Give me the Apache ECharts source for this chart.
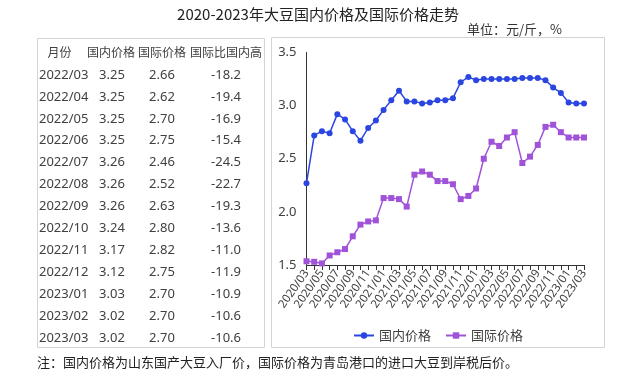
<!DOCTYPE html>
<html>
<head>
<meta charset="utf-8">
<script src="https://cdn.jsdelivr.net/npm/echarts@6/dist/echarts.min.js"></script>
<style>
html,body{margin:0;padding:0;background:#fff;}
#c{width:640px;height:378px;}
</style>
</head>
<body>
<div id="c"></div>
<script>
var months = ['2020/03','2020/04','2020/05','2020/06','2020/07','2020/08','2020/09','2020/10','2020/11','2020/12',
  '2021/01','2021/02','2021/03','2021/04','2021/05','2021/06','2021/07','2021/08','2021/09','2021/10','2021/11','2021/12',
  '2022/01','2022/02','2022/03','2022/04','2022/05','2022/06','2022/07','2022/08','2022/09','2022/10','2022/11','2022/12',
  '2023/01','2023/02','2023/03'];
var domestic = [2.27,2.72,2.76,2.74,2.92,2.87,2.76,2.67,2.79,2.86,2.96,3.05,3.14,3.04,3.04,3.02,3.03,3.05,3.05,3.07,
  3.22,3.27,3.24,3.25,3.25,3.25,3.25,3.25,3.26,3.26,3.26,3.24,3.17,3.12,3.03,3.02,3.02];
var international = [1.535,1.53,1.515,1.59,1.62,1.65,1.77,1.88,1.91,1.92,2.13,2.13,2.12,2.05,2.35,2.38,2.35,2.29,2.29,2.26,
  2.12,2.15,2.22,2.50,2.66,2.62,2.70,2.75,2.46,2.52,2.63,2.80,2.82,2.75,2.70,2.70,2.70];
var seriesNames = ['国内价格','国际价格'];
var yTicks = ['1.5','2.0','2.5','3.0','3.5'];

var tableHeader = ['月份','国内价格','国际价格','国际比国内高'];
var tableMonths = ['2022/03','2022/04','2022/05','2022/06','2022/07','2022/08','2022/09','2022/10','2022/11','2022/12','2023/01','2023/02','2023/03'];
var tableDomestic = ['3.25','3.25','3.25','3.25','3.26','3.26','3.26','3.24','3.17','3.12','3.03','3.02','3.02'];
var tableIntl = ['2.66','2.62','2.70','2.75','2.46','2.52','2.63','2.80','2.82','2.75','2.70','2.70','2.70'];
var tableDiff = ['-18.2','-19.4','-16.9','-15.4','-24.5','-22.7','-19.3','-13.6','-11.0','-11.9','-10.9','-10.6','-10.6'];

var titleText = '2020-2023年大豆国内价格及国际价格走势';
var unitText = '单位：元/斤，%';
var noteText = '注：国内价格为山东国产大豆入厂价，国际价格为青岛港口的进口大豆到岸税后价。';

var CJK = '"Noto Sans CJK SC", sans-serif';
var NUM = '"Noto Sans", "Open Sans", sans-serif';
var TXT = '#404040';

var graphics = [];
graphics.push({type:'rect', shape:{x:37.5,y:38.5,width:227,height:309}, style:{fill:'#fff',stroke:'#d4d4d4',lineWidth:1}, z:-10});
graphics.push({type:'rect', shape:{x:271.5,y:37.5,width:333,height:310}, style:{fill:'#fff',stroke:'#d4d4d4',lineWidth:1}, z:-10});
graphics.push({type:'text', x:318, y:14, style:{text:titleText, font:'15px '+CJK, fill:'#222', textAlign:'center', textVerticalAlign:'middle'}});
graphics.push({type:'text', x:467, y:29, style:{text:unitText, font:'13px '+CJK, fill:'#333', textAlign:'left', textVerticalAlign:'middle'}});
graphics.push({type:'text', x:37, y:362, style:{text:noteText, font:'13px '+CJK, fill:'#222', textAlign:'left', textVerticalAlign:'middle'}});

var headX = [59.5, 111, 162, 226];
tableHeader.forEach(function(h,i){
  graphics.push({type:'text', x:headX[i], y:52, style:{text:h, font:'12px '+CJK, fill:TXT, textAlign:'center', textVerticalAlign:'middle'}});
});
for (var r=0;r<tableMonths.length;r++){
  var yy = 75 + 21.9*r;
  graphics.push({type:'text', x:39, y:yy, style:{text:tableMonths[r], font:'13px '+NUM, fill:TXT, textAlign:'left', textVerticalAlign:'middle'}});
  graphics.push({type:'text', x:112, y:yy, style:{text:tableDomestic[r], font:'13px '+NUM, fill:TXT, textAlign:'center', textVerticalAlign:'middle'}});
  graphics.push({type:'text', x:162, y:yy, style:{text:tableIntl[r], font:'13px '+NUM, fill:TXT, textAlign:'center', textVerticalAlign:'middle'}});
  graphics.push({type:'text', x:226, y:yy, style:{text:tableDiff[r], font:'13px '+NUM, fill:TXT, textAlign:'center', textVerticalAlign:'middle'}});
}

var chart = echarts.init(document.getElementById('c'), null, {renderer:'canvas'});
chart.setOption({
  animation:false,
  backgroundColor:'#fff',
  graphic: graphics,
  grid:{left:306.5, right:56, top:52.5, bottom:113, containLabel:false},
  legend:{
    data:seriesNames, left:348, top:324, itemWidth:20, itemHeight:8, itemGap:14,
    textStyle:{fontFamily:'Noto Sans CJK SC', fontSize:13, color:TXT}
  },
  xAxis:{
    type:'category', data:months, boundaryGap:false,
    axisLine:{lineStyle:{color:'#333', width:1}},
    axisTick:{show:true, interval:0, length:5, lineStyle:{color:'#333'}},
    axisLabel:{interval:1, rotate:55, fontSize:11.5, color:TXT, fontFamily:NUM, margin:6}
  },
  yAxis:{
    type:'value', min:1.5, max:3.5, interval:0.5,
    axisLine:{show:true, lineStyle:{color:'#333', width:1}},
    axisTick:{show:false},
    splitLine:{show:false},
    axisLabel:{fontSize:13, color:TXT, fontFamily:NUM, margin:10, formatter:function(v){return yTicks[Math.round((v-1.5)/0.5)];}}
  },
  series:[
    {name:seriesNames[0], type:'line', data:domestic, symbol:'circle', symbolSize:6, showSymbol:true, showAllSymbol:true,
     lineStyle:{color:'#2a45e0', width:1.5}, itemStyle:{color:'#2a45e0'}},
    {name:seriesNames[1], type:'line', data:international, symbol:'rect', symbolSize:6, showSymbol:true, showAllSymbol:true,
     lineStyle:{color:'#a052d8', width:1.5}, itemStyle:{color:'#a052d8'}}
  ]
});
</script>
</body>
</html>
